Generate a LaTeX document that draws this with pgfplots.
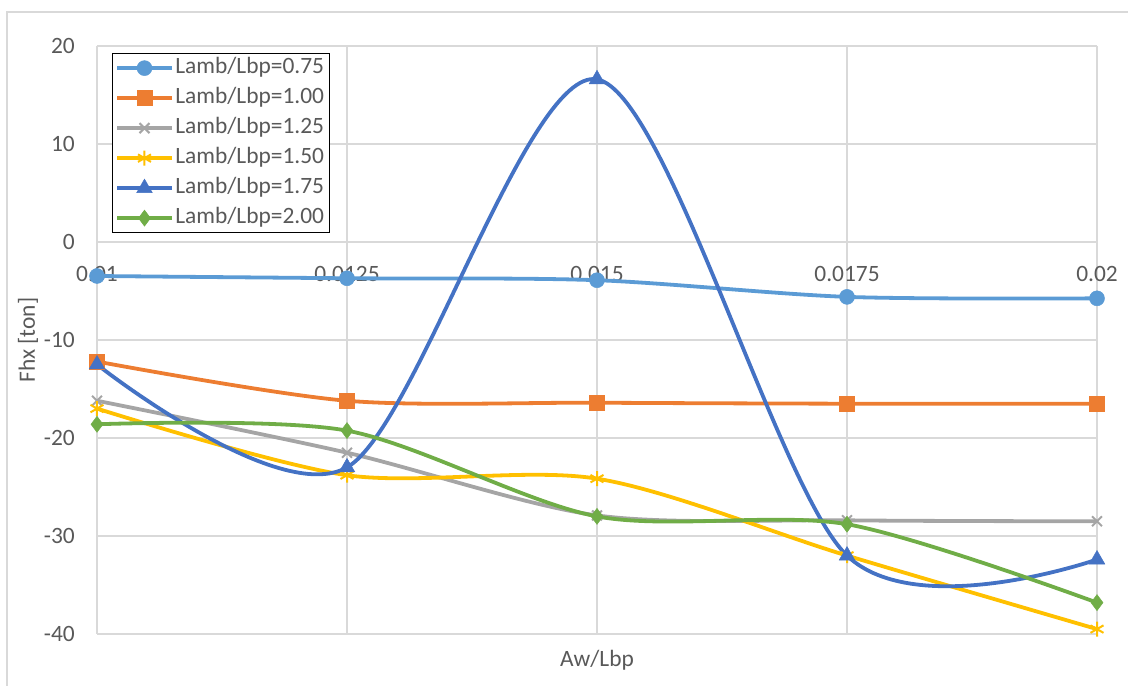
\documentclass[border=0pt]{standalone}
\usepackage{fontspec}
\setmainfont{Carlito}
\usepackage{pgfplots}
\pgfplotsset{compat=1.18}
\definecolor{txt}{HTML}{595959}
\definecolor{gridc}{HTML}{D9D9D9}
\definecolor{cA}{HTML}{5B9BD5}
\definecolor{cB}{HTML}{ED7D31}
\definecolor{cC}{HTML}{A5A5A5}
\definecolor{cD}{HTML}{FFC000}
\definecolor{cE}{HTML}{4472C4}
\definecolor{cF}{HTML}{70AD47}
\newcommand{\bigf}{\fontsize{23.5}{28}\selectfont}
\begin{document}
\begin{tikzpicture}[x=1bp,y=1bp]
\useasboundingbox (-97,-52) rectangle (1031,634);
\draw[gridc, line width=1.5bp] (-90,-60) -- (-90,622) -- (1040,622);
\begin{axis}[
  at={(0,0)}, anchor=south west,
  scale only axis, width=1000bp, height=588bp,
  xmin=0.01, xmax=0.02, ymin=-40, ymax=20,
  scaled x ticks=false, scaled y ticks=false,
  xtick={0.01,0.0125,0.015,0.0175,0.02},
  xticklabels={0.01,0.0125,0.015,0.0175,0.02},
  ytick={-40,-30,-20,-10,0,10,20},
  grid=major,
  major grid style={gridc, line width=1.5bp},
  axis line style={draw=none},
  tick style={draw=none},
  /pgf/number format/assume math mode=true,
  tick label style={font=\bigf, text=txt},
  yticklabel style={inner sep=0pt, xshift=-22bp},
  xticklabel style={anchor=base, inner sep=0pt, yshift=352bp},
  xlabel={Aw/Lbp}, ylabel={Fhx [ton]},
  label style={font=\bigf, text=txt},
  xlabel style={at={(axis description cs:0.5,-0.0442)}, anchor=center},
  ylabel style={at={(axis description cs:-0.069,0.5)}, anchor=center},
  legend style={at={(0.015,0.988)}, anchor=north west, draw=black, line width=1.2bp,
    font=\bigf, text=txt, inner xsep=3bp, inner ysep=1bp, row sep=3bp,
    nodes={inner sep=2bp, text height=17bp, text depth=6bp}},
  legend cell align=left,
  legend image code/.code={\draw[mark repeat=2,mark phase=2] plot coordinates {(0bp,0bp) (27bp,0bp) (54bp,0bp)};},
  every axis plot/.append style={line width=3.8bp, smooth, tension=0.5},
]
\addplot[cA, mark=*, mark size=7.5bp, mark options={fill=cA, draw=cA, line width=0.5bp}] coordinates {(0.01,-3.47) (0.0125,-3.7) (0.015,-3.9) (0.0175,-5.6) (0.02,-5.75)};
\addlegendentry{Lamb/Lbp=0.75}
\addplot[cB, mark=square*, mark size=7.5bp, mark options={fill=cB, draw=cB, line width=0.5bp}] coordinates {(0.01,-12.2) (0.0125,-16.2) (0.015,-16.4) (0.0175,-16.5) (0.02,-16.5)};
\addlegendentry{Lamb/Lbp=1.00}
\addplot[cC, mark=x, mark size=7bp, mark options={draw=cC, line width=2bp}] coordinates {(0.01,-16.2) (0.0125,-21.5) (0.015,-27.9) (0.0175,-28.4) (0.02,-28.5)};
\addlegendentry{Lamb/Lbp=1.25}
\addplot[cD, mark=asterisk, mark size=7.5bp, mark options={draw=cD, line width=2bp}] coordinates {(0.01,-17.0) (0.0125,-23.8) (0.015,-24.15) (0.0175,-32.0) (0.02,-39.5)};
\addlegendentry{Lamb/Lbp=1.50}
\addplot[cE, mark=triangle*, mark size=9bp, mark options={fill=cE, draw=cE, line width=0.5bp}] coordinates {(0.01,-12.5) (0.0125,-23.0) (0.015,16.6) (0.0175,-32.0) (0.02,-32.4)};
\addlegendentry{Lamb/Lbp=1.75}
\addplot[cF, mark=diamond*, mark size=8bp, mark options={fill=cF, draw=cF, line width=0.5bp}] coordinates {(0.01,-18.6) (0.0125,-19.25) (0.015,-28.0) (0.0175,-28.8) (0.02,-36.8)};
\addlegendentry{Lamb/Lbp=2.00}
\end{axis}
\end{tikzpicture}
\end{document}
